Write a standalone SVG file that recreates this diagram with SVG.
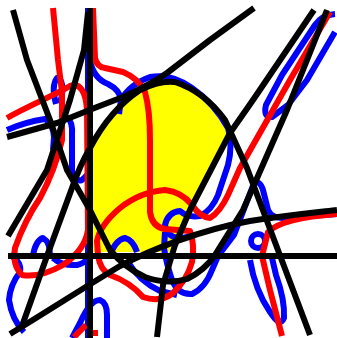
<svg xmlns="http://www.w3.org/2000/svg" width="337" height="338" viewBox="0 0 337 338">
<style>
.s{fill:none;stroke-width:6;stroke-linejoin:round;stroke-linecap:butt}
.k{stroke:#000}
.b{stroke:#00f}
.r{stroke:#f00}
</style>
<rect width="337" height="338" fill="#fff"/>
<path id="yellow" fill="#ff0" d="M91,145 Q110,110 140,90 Q160,80 175,82 Q205,92 225,120 L230,133 L190,210 L172,252 L91,252 Z"/>
<g id="blue" class="s b">
<path d="M88,8 V338"/>
<path d="M92,256 H337"/>
<path d="M8,256 H88"/>
<path d="M90,60 Q93,78 108,84 Q120,90 121,100 L119,114"/>
<path d="M121,100 Q130,84 150,77 Q172,73 192,88 Q215,104 228,128 Q233,145 228,165 L218,195 Q212,210 200,216 Q188,218 180,211 Q168,212 165,225 Q166,236 178,238 Q188,238 192,234"/>
<path d="M165,232 L164,248 Q166,262 172,280 Q178,295 192,294 Q205,288 212,270 L218,256 L234,235 L254,183 Q260,180 263,190 L268,210 Q272,218 282,218 L337,214"/>
<path d="M128,262 Q140,282 160,291 L177,295"/>
<path d="M7,130 Q25,122 45,119 Q53,123 54,137 L53,150"/>
<path d="M56,104 Q51,86 57,78 Q64,80 62,95 L60,103"/>
<path d="M67,117 Q73,122 72,135 L72,172 Q75,182 82,180 L88,174"/>
<path d="M10,255 Q22,262 20,272 Q10,285 9,300 Q12,320 24,332"/>
<path d="M33,255 Q36,240 43,238 Q50,242 50,255"/>
<path d="M53,258 Q62,266 77,265 Q85,263 88,258"/>
<path d="M72,338 L80,323 Q90,300 100,300 Q107,303 107,315 L107,338"/>
<path d="M110,256 Q115,240 125,238 Q133,240 137,252"/>
<circle cx="258" cy="241" r="7"/>
<path d="M250,260 Q255,290 270,312 Q280,328 284,318 Q285,300 276,275 L272,258"/>
<path d="M335,14 Q322,15 315,25 L282,75 L266,105 Q263,118 272,117 L288,105 L307,80 L335,32"/>
</g>
<g id="red" class="s r">
<path d="M7,118 C30,105 55,95 70,86 C80,82 86,92 87,110 L88,230 Q85,250 63,265 Q40,278 22,275 Q12,265 15,248 Q25,220 40,198 Q55,170 62,140 L62,92 L58,60 L53,8"/>
<path d="M93,8 L95,58 Q97,67 105,68 L123,72 Q138,78 145,92 Q150,110 150,140 L150,212 Q152,227 165,229 L190,231 Q195,245 192,262 Q187,280 173,293 Q160,303 143,297 Q130,282 110,275 Q100,270 98,255 L97,241 Q100,225 120,208 Q140,192 165,190 Q182,192 192,205 Q200,217 210,218 Q220,212 228,195 L240,168 L290,80 L330,12"/>
<path d="M337,214 C310,216 280,220 268,232 L262,256 L270,290 L282,336"/>
<path d="M74,337 L86,325"/>
<path d="M92,333 L98,333"/>
</g>
<g id="black" class="s k">
<path d="M90,8 V338"/>
<path d="M8,256 H337"/>
<path d="M10,334 C40,316 80,290 120,266 C150,250 200,230 250,221 C290,215 320,212 337,210"/>
<path d="M13,10 L27,60 L50,120 L67,170 L90,210 L110,250 Q125,268 145,277 Q167,285 187,279 Q205,270 215,255 L243,210 L287,110 L327,10"/>
<path d="M88,12 L84,50 L70,100 L47,170 L8,236"/>
<path d="M22,326 L47,256 L72,188 Q80,165 90,148 Q110,110 140,90 Q160,80 175,82 Q205,92 225,120 L247,168 L310,335"/>
<path d="M314,10 L253,100 L230,133 L190,210 L175,245 L163,285 L157,337"/>
<path d="M7,137 L57,123 L97,107 L123,97 Q150,85 167,73 L210,40 L254,8"/>
</g>
</svg>
